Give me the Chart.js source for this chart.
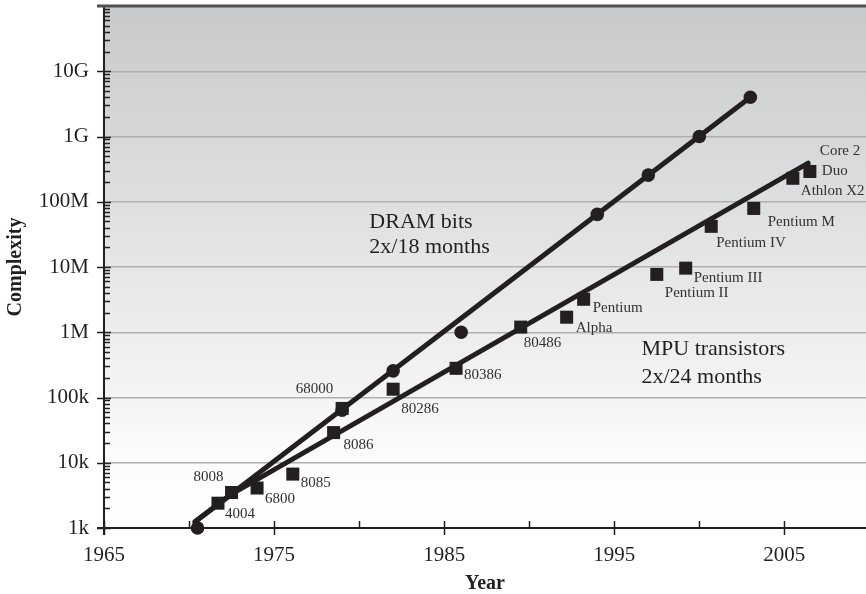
<!DOCTYPE html>
<html>
<head>
<meta charset="utf-8">
<script src="https://cdn.jsdelivr.net/npm/chart.js@4.4.1/dist/chart.umd.min.js"></script>
<style>
  html, body { margin: 0; padding: 0; background: #fff; }
  #wrap { width: 866px; height: 594px; }
</style>
</head>
<body>
<div id="wrap"><canvas id="chart" width="866" height="594"></canvas></div>
<script>
// DRAM bits per chip
const dramYears = [1970.5, 1979, 1982, 1986, 1994, 1997, 2000, 2003];
const dramBits = [1e3, 64e3, 256e3, 1e6, 64e6, 256e6, 1e9, 4e9];

// MPU transistor counts
const mpuNames = ['4004', '8008', '6800', '8085', '8086', '68000', '80286', '80386', '80486', 'Alpha',
  'Pentium', 'Pentium II', 'Pentium III', 'Pentium IV', 'Pentium M', 'Athlon X2', 'Core 2\nDuo'];
const mpuYears = [1971.7, 1972.5, 1974.0, 1976.1, 1978.5, 1979.0, 1982.0, 1985.7, 1989.5, 1992.2,
  1993.2, 1997.5, 1999.2, 2000.7, 2003.2, 2005.5, 2006.5];
const mpuTransistors = [2.4e3, 3.5e3, 4.1e3, 6.7e3, 29e3, 68e3, 134e3, 280e3, 1.2e6, 1.7e6,
  3.2e6, 7.7e6, 9.6e6, 42e6, 79e6, 229e6, 291e6];

// trend lines
const dramTrendYears = [1970.35, 2003];
const dramTrendValues = [1.25e3, 4e9];
const mpuTrendYears = [1970.35, 1972.5, 2006.4];
const mpuTrendValues = [1.25e3, 3.3e3, 3.9e8];

// axes
const xTickYears = [1965, 1975, 1985, 1995, 2005];
const xMinorYears = [1970, 1980, 1990, 2000];
const yTickValues = [1e3, 1e4, 1e5, 1e6, 1e7, 1e8, 1e9, 1e10];
const yTickLabels = ['1k', '10k', '100k', '1M', '10M', '100M', '1G', '10G'];

const INK = '#231f20';
const SERIF = '"Liberation Serif", "Times New Roman", serif';

// label offsets from the marker centre: [dx, dy, align]
const labelOffsets = {
  '4004': [7, 15], '8008': [-8, -11, 'right'], '6800': [8, 15], '8085': [8, 13], '8086': [10, 16],
  '68000': [-9, -15, 'right'], '80286': [8, 24], '80386': [8, 11], '80486': [3, 20], 'Alpha': [9, 15],
  'Pentium': [9, 13], 'Pentium II': [8, 23], 'Pentium III': [8, 14], 'Pentium IV': [5, 21],
  'Pentium M': [14, 18], 'Athlon X2': [8, 17], 'Core 2\nDuo': [10, -16]
};

const notes = [
  { year: 1980.6, value: 3.96e7, lines: ['DRAM bits', '2x/18 months'], gap: 25 },
  { year: 1996.6, value: 4.48e5, lines: ['MPU transistors', '2x/24 months'], gap: 28 }
];

const toPts = (xs, ys) => xs.map((x, i) => ({ x: x, y: ys[i] }));

const decor = {
  id: 'decor',
  beforeDraw(chart) {
    const { ctx, chartArea: a } = chart;
    const g = ctx.createLinearGradient(0, a.top, 0, a.bottom);
    g.addColorStop(0, '#c8c9cb');
    g.addColorStop(0.88, '#fcfcfc');
    g.addColorStop(1, '#ffffff');
    ctx.save();
    ctx.fillStyle = g;
    ctx.fillRect(a.left, a.top, a.right - a.left, a.bottom - a.top);
    ctx.restore();
  },
  beforeDatasetsDraw(chart) {
    const { ctx, chartArea: a, scales: { x, y } } = chart;
    ctx.save();
    ctx.strokeStyle = INK;
    ctx.lineWidth = 1.5;
    // y minor + major ticks
    for (let e = 3; e <= 10; e++) {
      const d = Math.pow(10, e);
      for (let k = 2; k <= 9; k++) {
        const py = Math.round(y.getPixelForValue(d * k)) + 0.5;
        ctx.beginPath(); ctx.moveTo(a.left, py); ctx.lineTo(a.left + 6, py); ctx.stroke();
      }
      const py = Math.round(y.getPixelForValue(d)) + 0.5;
      ctx.beginPath(); ctx.moveTo(a.left - 7, py); ctx.lineTo(a.left + 7, py); ctx.stroke();
    }
    // x ticks
    xTickYears.forEach(v => {
      const px = Math.round(x.getPixelForValue(v)) + 0.5;
      ctx.beginPath(); ctx.moveTo(px, a.bottom - 7); ctx.lineTo(px, a.bottom + 7); ctx.stroke();
    });
    xMinorYears.forEach(v => {
      const px = Math.round(x.getPixelForValue(v)) + 0.5;
      ctx.beginPath(); ctx.moveTo(px, a.bottom - 7); ctx.lineTo(px, a.bottom); ctx.stroke();
    });
    // axis lines
    ctx.lineWidth = 2;
    ctx.beginPath(); ctx.moveTo(a.left, a.top); ctx.lineTo(a.left, a.bottom + 7); ctx.stroke();
    ctx.beginPath(); ctx.moveTo(a.left - 7, a.bottom); ctx.lineTo(a.right, a.bottom); ctx.stroke();
    // top frame
    ctx.strokeStyle = '#4f4f51';
    ctx.lineWidth = 3;
    ctx.beginPath(); ctx.moveTo(a.left - 7, a.top); ctx.lineTo(a.right, a.top); ctx.stroke();
    ctx.restore();
  },
  afterDatasetsDraw(chart) {
    const { ctx, scales: { x, y } } = chart;
    const meta = chart.getDatasetMeta(0);
    ctx.save();
    ctx.fillStyle = '#333132';
    ctx.font = '15px ' + SERIF;
    ctx.textBaseline = 'alphabetic';
    mpuNames.forEach((name, i) => {
      const p = meta.data[i];
      const off = labelOffsets[name] || [8, 15];
      ctx.textAlign = off[2] || 'left';
      name.split('\n').forEach((line, j) => {
        ctx.fillText(line, p.x + off[0] + (j ? 2 : 0), p.y + off[1] + j * 20);
      });
    });
    ctx.fillStyle = INK;
    ctx.font = '22px ' + SERIF;
    ctx.textAlign = 'left';
    notes.forEach(n => {
      const px = x.getPixelForValue(n.year);
      const py = y.getPixelForValue(n.value);
      n.lines.forEach((line, j) => ctx.fillText(line, px, py + j * n.gap));
    });
    ctx.restore();
  }
};

new Chart(document.getElementById('chart'), {
  type: 'scatter',
  data: {
    datasets: [
      {
        label: 'MPU',
        data: toPts(mpuYears, mpuTransistors),
        pointStyle: 'rect',
        pointRadius: 9.2,
        backgroundColor: INK,
        borderWidth: 0,
        clip: false
      },
      {
        label: 'DRAM',
        data: toPts(dramYears, dramBits),
        pointStyle: 'circle',
        pointRadius: 6.8,
        backgroundColor: INK,
        borderWidth: 0,
        clip: false
      },
      {
        label: 'DRAM trend',
        data: toPts(dramTrendYears, dramTrendValues),
        showLine: true,
        pointRadius: 0,
        borderColor: INK,
        borderWidth: 5,
        borderCapStyle: 'round',
        clip: false
      },
      {
        label: 'MPU trend',
        data: toPts(mpuTrendYears, mpuTrendValues),
        showLine: true,
        pointRadius: 0,
        borderColor: INK,
        borderWidth: 5,
        borderCapStyle: 'round',
        borderJoinStyle: 'round',
        clip: false
      }
    ]
  },
  options: {
    responsive: false,
    devicePixelRatio: 1,
    animation: false,
    layout: { autoPadding: false, padding: { top: 6, right: 0, bottom: 0, left: 0 } },
    plugins: { legend: { display: false }, tooltip: { enabled: false } },
    scales: {
      x: {
        type: 'linear',
        min: 1965,
        max: 2009.8,
        afterBuildTicks: s => { s.ticks = xTickYears.map(v => ({ value: v })); },
        afterFit: s => { s.height = 66; s.paddingLeft = 0; s.paddingRight = 0; },
        ticks: {
          autoSkip: false, maxRotation: 0, padding: 15, color: INK,
          font: { family: SERIF, size: 21 },
          callback: v => String(v)
        },
        grid: { display: false, drawTicks: false },
        border: { display: false },
        title: {
          display: true, text: 'Year', color: INK,
          font: { family: SERIF, size: 20, weight: 'bold' },
          padding: { top: 0, bottom: -2 }
        }
      },
      y: {
        type: 'logarithmic',
        min: 1e3,
        max: 1e11,
        afterBuildTicks: s => { s.ticks = yTickValues.map(v => ({ value: v })); },
        afterFit: s => { s.width = 104; s.paddingTop = 0; s.paddingBottom = 0; },
        ticks: {
          autoSkip: false, padding: 15, color: INK,
          font: { family: SERIF, size: 21 },
          callback: (v, i) => yTickLabels[i]
        },
        grid: {
          drawTicks: false,
          lineWidth: 1.5,
          color: c => (c.index === 0 ? 'rgba(0,0,0,0)' : '#aeafb1')
        },
        border: { display: false },
        title: {
          display: true, text: 'Complexity', color: INK,
          font: { family: SERIF, size: 20, weight: 'bold' },
          padding: { top: 4, bottom: 0 }
        }
      }
    }
  },
  plugins: [decor]
});
</script>
</body>
</html>
